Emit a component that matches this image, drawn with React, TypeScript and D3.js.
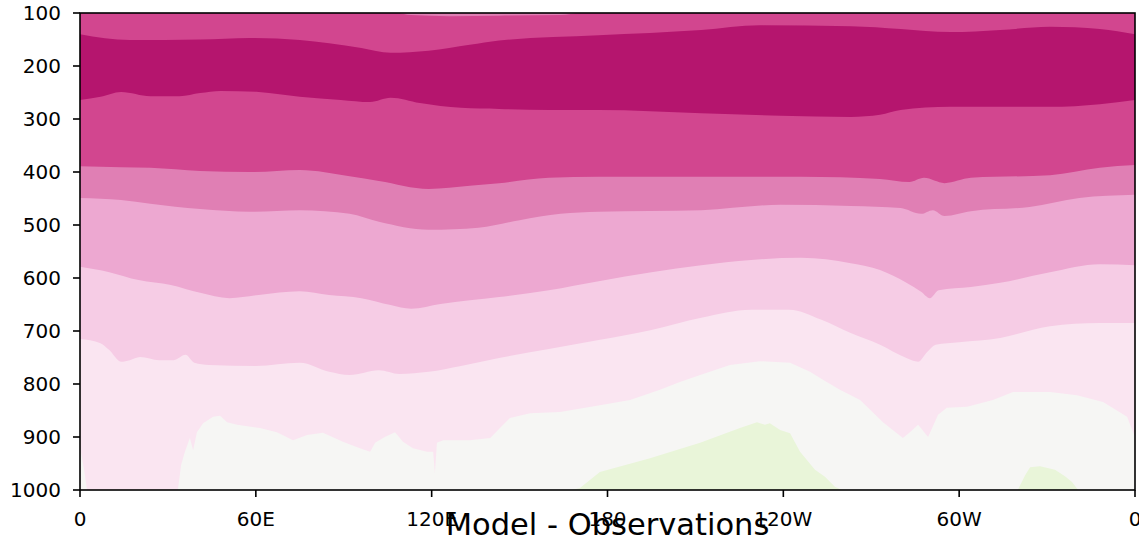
import * as d3 from 'd3';
import { useEffect } from 'react';

// longitude / pressure ticks
const LON_TICKS = [0, 60, 120, 180, 240, 300, 360];
const LON_LABELS = ['0', '60E', '120E', '180', '120W', '60W', '0'];
const P_TICKS = [100, 200, 300, 400, 500, 600, 700, 800, 900, 1000];

// contour boundaries, [lon (0-360 east), pressure hPa]
const topSliver: [number, number][] = [
  [0, 100], [108, 100], [113, 104], [126, 106], [143, 105], [164, 104], [171, 100], [360, 100],
];
const edge1: [number, number][] = [
  [0, 140], [17, 151], [41, 150], [58, 147], [75, 151], [85, 157], [96, 166], [106, 175],
  [119, 171], [133, 160], [143, 152], [177, 142], [212, 132], [232, 123], [263, 125],
  [280, 130], [297, 136], [314, 132], [331, 126], [348, 130], [360, 140],
];
const edge2: [number, number][] = [
  [0, 264], [7, 258], [14, 249], [24, 257], [34, 257], [41, 251], [48, 247], [61, 249],
  [75, 258], [89, 264], [99, 268], [106, 260], [116, 270], [130, 279], [143, 281],
  [160, 283], [177, 283], [212, 289], [239, 294], [263, 296], [273, 292], [280, 283],
  [297, 277], [314, 277], [331, 277], [348, 272], [360, 264],
];
const edge3: [number, number][] = [
  [0, 389], [14, 391], [24, 392], [41, 398], [58, 400], [75, 396], [92, 408], [102, 417],
  [119, 432], [133, 426], [143, 421], [160, 411], [177, 409], [212, 409], [246, 409],
  [273, 413], [283, 419], [288, 411], [295, 421], [304, 411], [331, 406], [348, 392], [360, 387],
];
const edge4: [number, number][] = [
  [0, 449], [14, 453], [24, 460], [41, 470], [58, 475], [75, 472], [92, 479], [102, 494],
  [119, 509], [136, 505], [150, 491], [164, 479], [177, 475], [212, 472], [239, 462],
  [263, 464], [280, 468], [287, 479], [291, 472], [295, 483], [304, 474], [324, 466],
  [341, 449], [360, 443],
];
const edge5: [number, number][] = [
  [0, 579], [10, 589], [20, 604], [31, 613], [41, 628], [51, 638], [61, 632], [75, 625],
  [85, 632], [96, 638], [106, 651], [113, 658], [123, 649], [143, 636], [160, 623],
  [177, 606], [195, 589], [212, 576], [229, 566], [246, 562], [263, 572], [273, 585],
  [282, 609], [287, 626], [290, 638], [293, 623], [304, 617], [314, 609], [331, 589],
  [348, 574], [360, 576],
];
const edge6: [number, number][] = [
  [0, 715], [7, 723], [10, 736], [14, 758], [17, 755], [20.5, 749], [27, 755], [32, 755],
  [36, 745], [39, 760], [44, 764], [60, 766], [75, 760], [85, 777], [92, 783], [102, 774],
  [109, 781], [119, 777], [130, 766], [143, 751], [160, 734], [177, 717], [195, 698],
  [212, 675], [229, 660], [242, 660], [253, 679], [263, 704], [273, 726], [282, 751],
  [286, 758], [289, 740], [292, 726], [300, 721], [314, 713], [331, 691], [348, 685], [360, 685],
];
const edge7: [number, number][] = [
  [0, 919], [1.4, 962], [2.4, 1000], [33.4, 1000], [34.5, 953], [35.8, 928], [37.5, 902],
  [38.6, 925], [39.9, 891], [42, 874], [45.4, 862], [47.8, 860], [50.2, 872], [53.6, 877],
  [61.4, 883], [67.2, 891], [72.7, 906], [77.5, 896], [82.9, 892], [89.7, 909], [95.5, 921],
  [99, 928], [100.7, 911], [104, 900], [107.5, 891], [110.2, 909], [113.6, 921], [118.4, 928],
  [120.5, 928], [121.1, 968], [121.8, 911], [123.9, 906], [133, 906], [140, 902], [143.3, 883],
  [146.7, 864], [153.6, 855], [163.8, 853], [177.4, 840], [187.7, 830], [197.9, 811],
  [204.7, 796], [211.6, 783], [221.8, 764], [232, 757], [242.3, 760], [249.1, 777],
  [253.5, 792], [259.3, 811], [266.2, 830], [274, 872], [280.8, 902], [283.2, 891], [286, 877],
  [289.4, 900], [292.8, 858], [295.8, 845], [302.7, 843], [311.5, 830], [318.4, 815],
  [331, 815], [340.2, 821], [349.1, 834], [357.3, 862], [360, 900],
];
const edge8: [number, number][] = [
  [0, 1000], [167.9, 1000], [170.6, 996], [177.4, 966], [194.5, 940], [211.6, 911],
  [225.2, 883], [231, 872], [233.7, 877], [235.4, 874], [238.9, 887], [242.3, 893],
  [245.7, 928], [250.8, 962], [254.2, 975], [257.6, 994], [260, 1000], [320, 1000],
  [322.5, 972], [324.2, 957], [327.6, 955], [332.7, 962], [336.1, 974], [338.5, 985],
  [340.6, 1000], [360, 1000],
];

// fill colour below each edge (PiYG-like)
const BASE_COLOR = '#d2468f';
const bands: { edge: [number, number][]; color: string; smooth: boolean }[] = [
  { edge: edge1, color: '#b5156e', smooth: true },
  { edge: edge2, color: '#d2468f', smooth: true },
  { edge: edge3, color: '#e07fb4', smooth: true },
  { edge: edge4, color: '#eda8d1', smooth: true },
  { edge: edge5, color: '#f6cce5', smooth: true },
  { edge: edge6, color: '#fae5f1', smooth: true },
  { edge: edge7, color: '#f6f6f4', smooth: false },
  { edge: edge8, color: '#e9f5d9', smooth: false },
];

const W = 1139;
const H = 541;
const margin = { top: 13, right: 4, bottom: 51, left: 80 };
const font = '"DejaVu Sans", sans-serif';

export default function App() {
  useEffect(() => {
    document.body.style.margin = '0';
  }, []);

  const iw = W - margin.left - margin.right;
  const ih = H - margin.top - margin.bottom;
  const x = d3.scaleLinear().domain([0, 360]).range([0, iw]);
  const y = d3.scaleLinear().domain([100, 1000]).range([0, ih]);

  const below = (smooth: boolean) =>
    d3
      .area<[number, number]>()
      .x((d) => x(d[0]))
      .y0(y(1000))
      .y1((d) => y(d[1]))
      .curve(smooth ? d3.curveMonotoneX : d3.curveLinear);
  const above = d3
    .area<[number, number]>()
    .x((d) => x(d[0]))
    .y0(y(100))
    .y1((d) => y(d[1]))
    .curve(d3.curveMonotoneX);

  return (
    <svg width={W} height={H} style={{ display: 'block' }} fontFamily={font}>
      <defs>
        <clipPath id="plot">
          <rect width={iw} height={ih} />
        </clipPath>
      </defs>
      <g transform={`translate(${margin.left},${margin.top})`}>
        <g clipPath="url(#plot)">
          <rect width={iw} height={ih} fill={BASE_COLOR} />
          <path d={above(topSliver) ?? ''} fill="#e07fb4" />
          {bands.map((b, i) => (
            <path key={i} d={below(b.smooth)(b.edge) ?? ''} fill={b.color} />
          ))}
        </g>
        <rect width={iw} height={ih} fill="none" stroke="#000" strokeWidth={1.6} />

        {/* y axis */}
        {P_TICKS.map((p) => (
          <g key={p} transform={`translate(0,${y(p)})`}>
            <line x1={-7} x2={0} stroke="#000" strokeWidth={1.6} />
            <text x={-19} dy="0.36em" textAnchor="end" fontSize={20} fill="#000">
              {p}
            </text>
          </g>
        ))}

        {/* x axis */}
        {LON_TICKS.map((l, i) => (
          <g key={i} transform={`translate(${x(l)},${ih})`}>
            <line y1={0} y2={7} stroke="#000" strokeWidth={1.6} />
            <text y={36} textAnchor="middle" fontSize={20} fill="#000">
              {LON_LABELS[i]}
            </text>
          </g>
        ))}

        <text x={iw / 2} y={ih + 45} textAnchor="middle" fontSize={30.5} fill="#000">
          Model - Observations
        </text>
      </g>
    </svg>
  );
}
